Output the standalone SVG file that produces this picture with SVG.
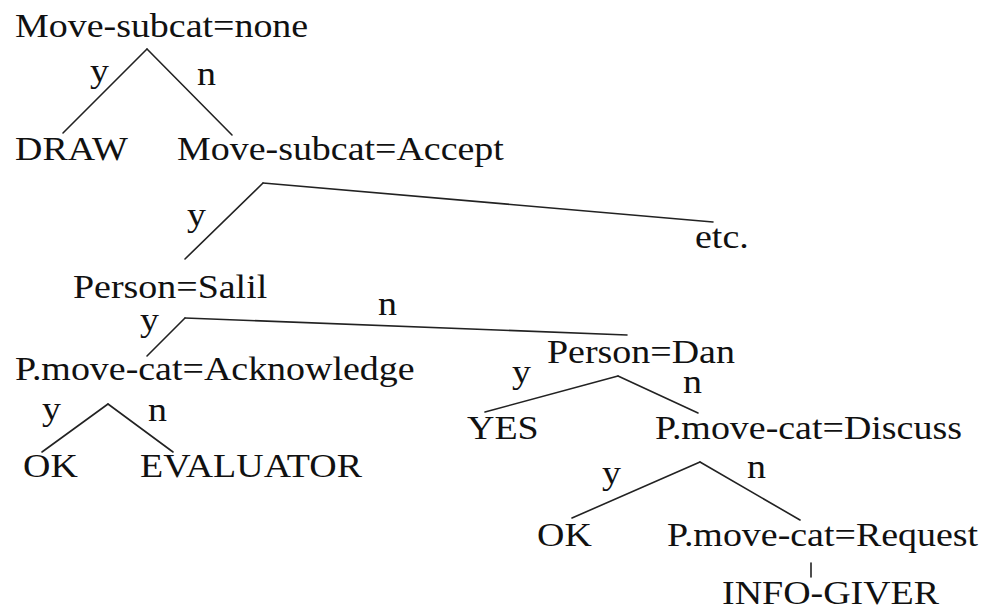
<svg xmlns="http://www.w3.org/2000/svg" width="999" height="609" viewBox="0 0 999 609">
<rect width="999" height="609" fill="#fff"/>
<g id="connectors" stroke="#222" stroke-width="1.6" fill="none" stroke-linecap="round">
<line x1="147" y1="49" x2="63" y2="133"/>
<line x1="147" y1="49" x2="232" y2="135"/>
<line x1="263" y1="183" x2="185" y2="259"/>
<line x1="263" y1="183" x2="713" y2="222"/>
<line x1="185" y1="318" x2="147" y2="356"/>
<line x1="185" y1="318" x2="627" y2="335"/>
<line x1="108" y1="404" x2="42" y2="452"/>
<line x1="108" y1="404" x2="173" y2="452"/>
<line x1="618" y1="376" x2="485" y2="412"/>
<line x1="618" y1="376" x2="698" y2="413"/>
<line x1="700" y1="462" x2="572" y2="518"/>
<line x1="700" y1="462" x2="800" y2="520"/>
<line x1="811" y1="563" x2="811" y2="577"/>
</g>
<g id="edge-labels" font-family="Liberation Serif, Times New Roman, serif" font-size="33" fill="#111">
<text transform="translate(90,82) scale(1.15,1)">y</text>
<text transform="translate(197,85) scale(1.15,1)">n</text>
<text transform="translate(187,226) scale(1.15,1)">y</text>
<text transform="translate(140,331) scale(1.15,1)">y</text>
<text transform="translate(378,315) scale(1.15,1)">n</text>
<text transform="translate(42,420) scale(1.15,1)">y</text>
<text transform="translate(148,421) scale(1.15,1)">n</text>
<text transform="translate(512,383) scale(1.15,1)">y</text>
<text transform="translate(683,393) scale(1.15,1)">n</text>
<text transform="translate(602,484) scale(1.15,1)">y</text>
<text transform="translate(747,478) scale(1.15,1)">n</text>
</g>
<g font-family="Liberation Serif, Times New Roman, serif" font-size="33" fill="#111">
<g id="n-root"><text transform="translate(15,37) scale(1.15,1)">Move-subcat=none</text></g>
<g id="n-draw"><text transform="translate(15,160) scale(1.15,1)">DRAW</text></g>
<g id="n-accept"><text transform="translate(177,160) scale(1.15,1)">Move-subcat=Accept</text></g>
<g id="n-etc"><text transform="translate(695,248) scale(1.15,1)">etc.</text></g>
<g id="n-salil"><text transform="translate(73,298) scale(1.15,1)">Person=Salil</text></g>
<g id="n-ack"><text transform="translate(15,380) scale(1.15,1)">P.move-cat=Acknowledge</text></g>
<g id="n-ok1"><text transform="translate(23,477) scale(1.15,1)">OK</text></g>
<g id="n-eval"><text transform="translate(140,477) scale(1.15,1)">EVALUATOR</text></g>
<g id="n-dan"><text transform="translate(547,363) scale(1.15,1)">Person=Dan</text></g>
<g id="n-yes"><text transform="translate(467,439) scale(1.15,1)">YES</text></g>
<g id="n-discuss"><text transform="translate(655,439) scale(1.15,1)">P.move-cat=Discuss</text></g>
<g id="n-ok2"><text transform="translate(537,546) scale(1.15,1)">OK</text></g>
<g id="n-request"><text transform="translate(667,546) scale(1.15,1)">P.move-cat=Request</text></g>
<g id="n-info"><text transform="translate(722,604) scale(1.15,1)">INFO-GIVER</text></g>
</g>
</svg>
